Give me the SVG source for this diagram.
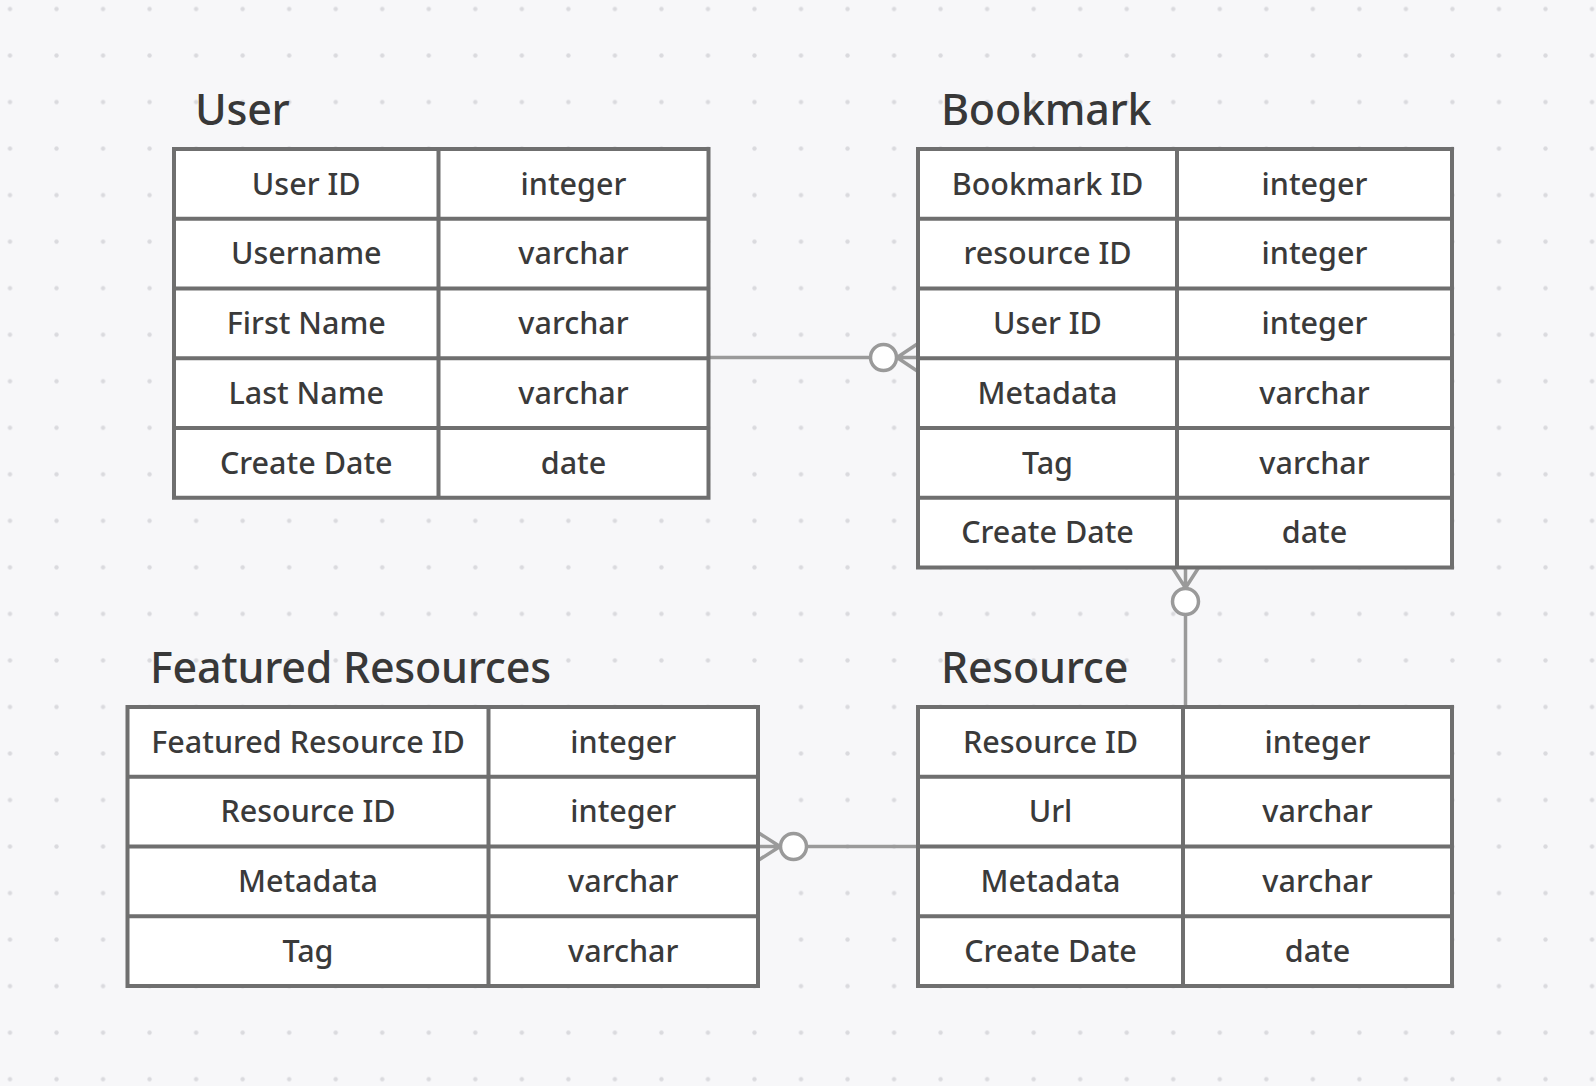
<svg xmlns="http://www.w3.org/2000/svg" width="1596" height="1086" viewBox="0 0 1596 1086">
<style>
.tbl{fill:#ffffff;stroke:#6f6f6f;stroke-width:4}
.ln{stroke:#6f6f6f;stroke-width:4;fill:none}
.title{font-family:"Noto Sans","Open Sans","DejaVu Sans",sans-serif;font-size:43px;font-weight:500;fill:#383838;letter-spacing:-0.25px}
.cell{font-family:"Noto Sans","Open Sans","DejaVu Sans",sans-serif;font-size:30.5px;font-weight:500;fill:#3a3a3a;text-anchor:middle}
.conn{stroke:#9a9a9a;stroke-width:3.5;fill:none}
.ring{fill:#ffffff;stroke:#9a9a9a;stroke-width:3.5}
</style>
<defs>
<pattern id="dots" patternUnits="userSpaceOnUse" x="-13.265" y="-14.265" width="46.53" height="46.53">
<circle cx="23.265" cy="23.265" r="2.2" fill="#dadade"/>
</pattern>
</defs>
<rect width="1596" height="1086" fill="#f7f7f9"/>
<rect width="1596" height="1086" fill="url(#dots)"/>

<g id="connectors">
<!-- User - Bookmark -->
<path class="conn" d="M708.5 357.5 H918 M897 357.5 L918 343.5 M897 357.5 L918 371.5"/>
<circle class="ring" cx="883.5" cy="357.5" r="13"/>
<!-- Bookmark - Resource -->
<path class="conn" d="M1185.5 567 V707 M1185.5 588 L1172 567 M1185.5 588 L1199 567"/>
<circle class="ring" cx="1185.5" cy="601.5" r="13"/>
<!-- Featured - Resource -->
<path class="conn" d="M758 846.5 H918 M780 846.5 L758 832.5 M780 846.5 L758 860.5"/>
<circle class="ring" cx="793.5" cy="846.5" r="13"/>
</g>

<g id="user">
<text class="title" x="195" y="125">User</text>
<rect class="tbl" x="174" y="149" width="534.5" height="348.75"/>
<path class="ln" d="M438.5 149 V497.75 M174 218.75 H708.5 M174 288.5 H708.5 M174 358.25 H708.5 M174 428 H708.5"/>
<text class="cell" x="306.25" y="194.5">User ID</text>
<text class="cell" x="573.5" y="194.5">integer</text>
<text class="cell" x="306.25" y="264.25">Username</text>
<text class="cell" x="573.5" y="264.25">varchar</text>
<text class="cell" x="306.25" y="334">First Name</text>
<text class="cell" x="573.5" y="334">varchar</text>
<text class="cell" x="306.25" y="403.75">Last Name</text>
<text class="cell" x="573.5" y="403.75">varchar</text>
<text class="cell" x="306.25" y="473.5">Create Date</text>
<text class="cell" x="573.5" y="473.5">date</text>
</g>

<g id="bookmark">
<text class="title" x="941" y="125">Bookmark</text>
<rect class="tbl" x="918" y="149" width="534" height="418.5"/>
<path class="ln" d="M1177 149 V567.5 M918 218.75 H1452 M918 288.5 H1452 M918 358.25 H1452 M918 428 H1452 M918 497.75 H1452"/>
<text class="cell" x="1047.5" y="194.5">Bookmark ID</text>
<text class="cell" x="1314.5" y="194.5">integer</text>
<text class="cell" x="1047.5" y="264.25">resource ID</text>
<text class="cell" x="1314.5" y="264.25">integer</text>
<text class="cell" x="1047.5" y="334">User ID</text>
<text class="cell" x="1314.5" y="334">integer</text>
<text class="cell" x="1047.5" y="403.75">Metadata</text>
<text class="cell" x="1314.5" y="403.75">varchar</text>
<text class="cell" x="1047.5" y="473.5">Tag</text>
<text class="cell" x="1314.5" y="473.5">varchar</text>
<text class="cell" x="1047.5" y="543.25">Create Date</text>
<text class="cell" x="1314.5" y="543.25">date</text>
</g>

<g id="featured-resources">
<text class="title" x="150" y="683">Featured Resources</text>
<rect class="tbl" x="127.5" y="707" width="630.5" height="279"/>
<path class="ln" d="M488.5 707 V986 M127.5 776.75 H758 M127.5 846.5 H758 M127.5 916.25 H758"/>
<text class="cell" x="308" y="752.5">Featured Resource ID</text>
<text class="cell" x="623.25" y="752.5">integer</text>
<text class="cell" x="308" y="822.25">Resource ID</text>
<text class="cell" x="623.25" y="822.25">integer</text>
<text class="cell" x="308" y="892">Metadata</text>
<text class="cell" x="623.25" y="892">varchar</text>
<text class="cell" x="308" y="961.75">Tag</text>
<text class="cell" x="623.25" y="961.75">varchar</text>
</g>

<g id="resource">
<text class="title" x="941" y="683">Resource</text>
<rect class="tbl" x="918" y="707" width="534" height="279"/>
<path class="ln" d="M1183 707 V986 M918 776.75 H1452 M918 846.5 H1452 M918 916.25 H1452"/>
<text class="cell" x="1050.5" y="752.5">Resource ID</text>
<text class="cell" x="1317.5" y="752.5">integer</text>
<text class="cell" x="1050.5" y="822.25">Url</text>
<text class="cell" x="1317.5" y="822.25">varchar</text>
<text class="cell" x="1050.5" y="892">Metadata</text>
<text class="cell" x="1317.5" y="892">varchar</text>
<text class="cell" x="1050.5" y="961.75">Create Date</text>
<text class="cell" x="1317.5" y="961.75">date</text>
</g>
</svg>
